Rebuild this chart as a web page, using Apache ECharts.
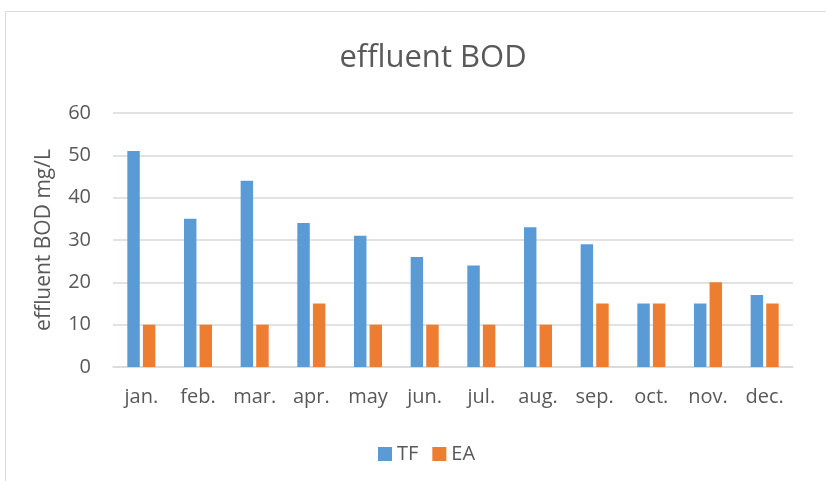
<!DOCTYPE html>
<html><head><meta charset="utf-8">
<script src="https://cdn.jsdelivr.net/npm/echarts@6/dist/echarts.min.js"></script>
<style>html,body{margin:0;padding:0;background:#fff}#c{width:826px;height:481px}</style>
</head><body><div id="c"></div>
<script>
const categories = ['jan.','feb.','mar.','apr.','may','jun.','jul.','aug.','sep.','oct.','nov.','dec.'];
const tfValues = [51,35,44,34,31,26,24,33,29,15,15,17];
const eaValues = [10,10,10,15,10,10,10,10,15,15,20,15];
const yTicks = [0,10,20,30,40,50,60];

const font = '"Open Sans", "Liberation Sans", sans-serif';
const chart = echarts.init(document.getElementById('c'));
chart.setOption({
  animation:false,
  graphic:[{type:'rect',shape:{x:5.5,y:11.5,width:830,height:480},style:{fill:'none',stroke:'#d9d9d9',lineWidth:1}}],
  title:{text:'effluent BOD',left:428,textAlign:'center',top:38,textStyle:{fontFamily:font,fontSize:31,fontWeight:'normal',color:'#595959'}},
  legend:{top:439,left:373,itemWidth:14,itemHeight:14,itemGap:14,icon:'rect',
    textStyle:{fontFamily:font,fontSize:20,color:'#595959',padding:[0,0,0,0]},data:['TF','EA']},
  grid:{left:113,right:33,top:113,bottom:114,containLabel:false},
  xAxis:{type:'category',data:categories,
    axisLine:{lineStyle:{color:'#d9d9d9',width:1.5}},axisTick:{show:false},
    axisLabel:{fontFamily:font,fontSize:20,color:'#595959',margin:20}},
  yAxis:{type:'value',min:yTicks[0],max:yTicks[yTicks.length-1],interval:10,
    name:'effluent BOD mg/L',nameLocation:'middle',nameGap:58,nameRotate:90,
    nameTextStyle:{fontFamily:font,fontSize:21,color:'#595959'},
    axisLine:{show:false},axisTick:{show:false},
    axisLabel:{fontFamily:font,fontSize:20,color:'#595959',margin:22},
    splitLine:{lineStyle:{color:'#d9d9d9',width:1.5}}},
  series:[
    {name:'TF',type:'bar',data:tfValues,barWidth:'22%',barGap:'25%',itemStyle:{color:'#5b9bd5'}},
    {name:'EA',type:'bar',data:eaValues,barWidth:'22%',barGap:'25%',itemStyle:{color:'#ed7d31'}}
  ]
});
</script></body></html>
